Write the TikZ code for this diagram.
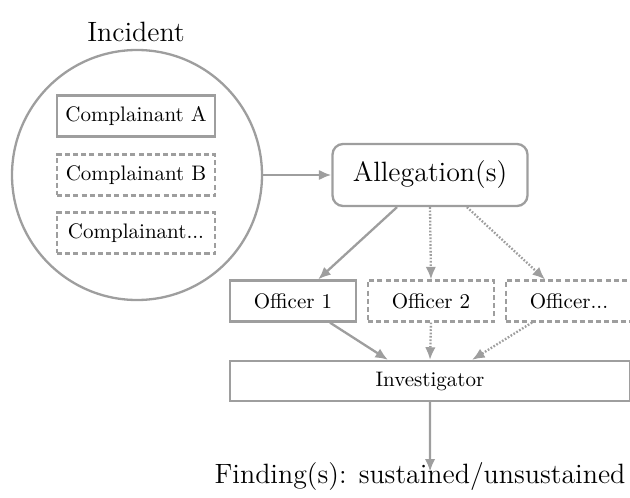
\documentclass[tikz,border=0pt]{standalone}
\usetikzlibrary{arrows.meta}
\definecolor{linegray}{gray}{0.62}
\newcommand{\bigfont}{\fontsize{13.3}{15}\selectfont}

\begin{document}
\begin{tikzpicture}[x=0.476pt, y=-0.476pt,
    every node/.style={inner sep=0pt},
    solidbox/.style={draw=linegray, line width=1.1pt},
    dashbox/.style={draw=linegray, line width=1pt, dash pattern=on 2.4pt off 1.5pt},
    roundbox/.style={draw=linegray, line width=1.1pt, rounded corners=5pt,
        minimum width=92.8pt, minimum height=29.5pt, font=\bigfont},
    arr/.style={draw=linegray, line width=1.1pt, -{Latex[length=6pt, width=5pt]}},
    dotarr/.style={arr, dash pattern=on 0.8pt off 0.8pt}]
    \useasboundingbox (0,0) rectangle (630,498);

    % Incident with complainants
    \node[font=\bigfont] (incident) at (136,32) {Incident};
    \node[draw=linegray, line width=1.1pt, circle, minimum size=119pt] (incidentcirc) at (137,175) {};
    \node[solidbox, minimum width=75.2pt, minimum height=19.5pt] (compa) at (136,116) {Complainant A};
    \node[dashbox, minimum width=75.2pt, minimum height=19.5pt] (compb) at (136,175) {Complainant B};
    \node[dashbox, minimum width=75.2pt, minimum height=19.5pt] (compn) at (136,233) {Complainant...};

    % Allegations and officers
    \node[roundbox] (alleg) at (430,175) {Allegation(s)};
    \node[solidbox, minimum width=60pt, minimum height=19.5pt] (off1) at (293,301) {Officer 1};
    \node[dashbox, minimum width=60pt, minimum height=19.5pt] (off2) at (431,301) {Officer 2};
    \node[dashbox, minimum width=60pt, minimum height=19.5pt] (offn) at (569,301) {Officer...};

    % Investigator and finding
    \node[solidbox, minimum width=190.4pt, minimum height=19pt] (invest) at (430,381) {Investigator};
    \node[font=\bigfont] (finding) at (420,477) {Finding(s): sustained/unsustained};

    % Connectors
    \draw[arr] (incidentcirc.east) -- (alleg.west);
    \draw[arr] ([xshift=-15.7pt]alleg.south) -- ([xshift=12pt]off1.north);
    \draw[dotarr] (alleg.south) -- (off2.north);
    \draw[dotarr] ([xshift=17.6pt]alleg.south) -- ([xshift=-11.4pt]offn.north);
    \draw[arr] ([xshift=17.6pt]off1.south) -- ([xshift=-20pt]invest.north);
    \draw[dotarr] (off2.south) -- (invest.north);
    \draw[dotarr] ([xshift=-17.6pt]offn.south) -- ([xshift=20pt]invest.north);
    \draw[arr] (invest.south) -- ([xshift=4.8pt, yshift=-4.3pt]finding.north);
\end{tikzpicture}
\end{document}
